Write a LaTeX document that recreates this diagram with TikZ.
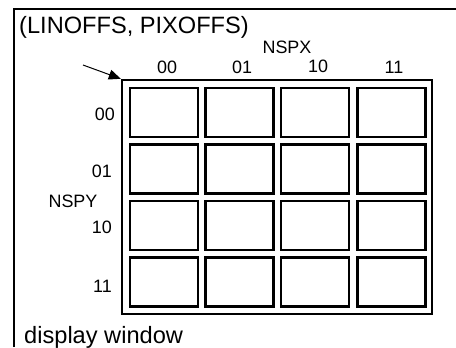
\documentclass[tikz,border=0pt]{standalone}
\usepackage{fontspec}
\setmainfont{Liberation Sans}
\usetikzlibrary{arrows.meta}
\begin{document}
\begin{tikzpicture}[x=1bp,y=-1bp,
  cell/.style={draw,line width=2.4bp,minimum width=68bp,minimum height=49bp,inner sep=0pt},
  big/.style={inner sep=0pt,font=\fontsize{23.7}{27}\selectfont},
  small/.style={inner sep=0pt,font=\fontsize{18}{21}\selectfont},
  frameline/.style={line width=2.6bp},
  ptr/.style={line width=1bp,-{Triangle[length=12bp,width=10bp]}}]
\useasboundingbox (0,0) rectangle (456,347);
\fill[white] (0,0) rectangle (456,347);
% display window frame (extends beyond the picture)
\draw[frameline] (14,347) -- (14,9) -- (456,9);
% grid outline
\node[draw,line width=2.4bp,minimum width=310bp,minimum height=234bp,inner sep=0pt] (grid) at (277,197) {};
% cells
\foreach \r/\y in {1/112.5,2/169,3/225.5,4/282}{
  \foreach \c/\x in {1/164,2/239.5,3/315,4/391.5}{
    \node[cell] (c\r\c) at (\x,\y) {};
  }
}
% texts
\node[big,anchor=base west] (title) at (19,33) {(LINOFFS, PIXOFFS)};
\node[big,anchor=base west] (dw) at (24,343) {display window};
\node[small,anchor=base] (nspx) at (287,53) {NSPX};
\node[small,anchor=base] (h1) at (167,73) {00};
\node[small,anchor=base] (h2) at (242,73) {01};
\node[small,anchor=base] (h3) at (318,72) {10};
\node[small,anchor=base] (h4) at (394,73) {11};
\node[small,anchor=base east] (r1) at (115,120) {00};
\node[small,anchor=base east] (r2) at (112,177) {01};
\node[small,anchor=base] (nspy) at (73,207) {NSPY};
\node[small,anchor=base east] (r3) at (112,233) {10};
\node[small,anchor=base east] (r4) at (112,292) {11};
% pointer to the grid origin
\coordinate (ptrstart) at (83,65);
\draw[ptr] (ptrstart) -- (grid.north west);
\end{tikzpicture}
\end{document}
